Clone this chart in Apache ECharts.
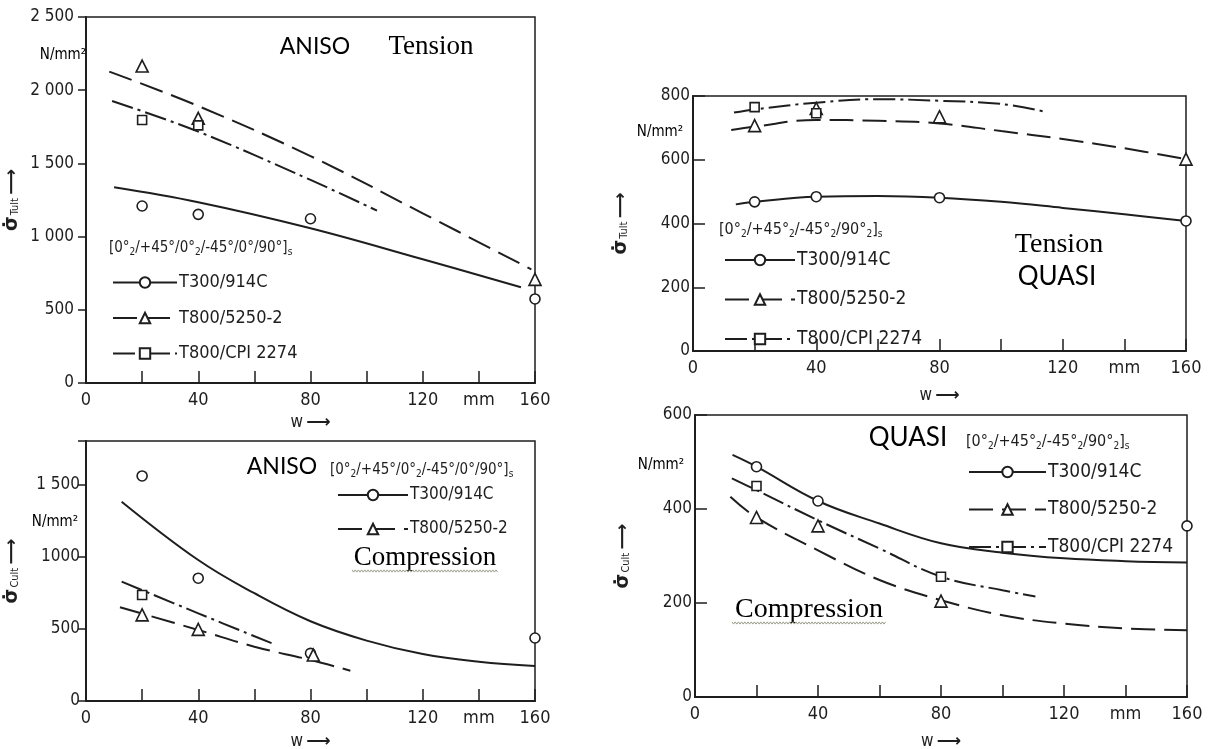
<!DOCTYPE html>
<html>
<head>
<meta charset="utf-8">
<script src="https://cdn.jsdelivr.net/npm/echarts@6/dist/echarts.min.js"></script>
<style>
  html, body { margin: 0; padding: 0; background: #fff; }
  #c { width: 1210px; height: 749px; }
</style>
</head>
<body>
<div id="c"></div>
<script>
// ---- tick labels ----
const widthTicks = ['0', '', '40', '', '80', '', '120', 'mm', '160'];   // every 20 mm
const anisoTensionTicks = ['0', '500', '1 000', '1 500', '2 000', '2 500'];
const anisoCompTicks = ['0', '500', '1000', '1 500'];
const quasiTensionTicks = ['0', '200', '400', '600', '800'];
const quasiCompTicks = ['0', '200', '400', '600'];

const materials = ['T300/914C', 'T800/5250-2', 'T800/CPI 2274'];

// ---- ANISO, tension: [w mm, N/mm2] ----
const anisoTenT300Pts = [[20, 1209], [40, 1152], [80, 1122], [160, 574]];
const anisoTen5250Pts = [[20, 2165], [40, 1808], [160, 708]];
const anisoTenCpiPts = [[20, 1796], [40, 1760]];
const anisoTenT300Fit = [[10, 1337], [40, 1235], [80, 1057], [120, 845], [155, 654]];
const anisoTen5250Fit = [[8.3, 2127], [40, 1892], [80, 1550], [120, 1159], [158.7, 776]];
const anisoTenCpiFit = [[9.3, 1926], [40, 1717], [80, 1387], [103.7, 1177]];

// ---- ANISO, compression ----
const anisoCompT300Pts = [[20, 1558], [40, 850], [80, 330], [160, 436]];
const anisoComp5250Pts = [[20, 596], [40, 496], [81, 318]];
const anisoCompCpiPts = [[20, 734]];
const anisoCompT300Fit = [[12.7, 1380], [40, 976], [60, 746], [80, 552], [100, 418], [120, 325], [140, 272], [160, 242]];
const anisoComp5250Fit = [[12.1, 649], [40, 492], [60, 376], [80, 284], [94.2, 210]];
const anisoCompCpiFit = [[12.7, 826], [40, 607], [66.8, 395]];

// ---- QUASI, tension ----
const quasiTenT300Pts = [[20, 468], [40, 484], [80, 481], [160, 408]];
const quasiTen5250Pts = [[20, 707], [40, 761], [80, 735], [160, 602]];
const quasiTenCpiPts = [[20, 765], [40, 746]];
const quasiTenT300Fit = [[13.9, 460], [20, 468], [40, 484], [60, 486], [80, 481], [100, 468], [120, 449], [140, 429], [160, 408]];
const quasiTen5250Fit = [[12.4, 693], [20, 704], [40, 725], [60, 722], [80, 714], [100, 690], [120, 665], [140, 636], [160, 602]];
const quasiTenCpiFit = [[13.3, 748], [20, 758], [40, 779], [60, 790], [80, 785], [100, 775], [114, 751]];

// ---- QUASI, compression ----
const quasiCompT300Pts = [[20, 490], [40, 417], [160, 364]];
const quasiComp5250Pts = [[20, 382], [40, 364], [80, 204]];
const quasiCompCpiPts = [[20, 449], [80, 256]];
const quasiCompT300Fit = [[12.2, 515], [20, 490], [40, 417], [60, 369], [80, 327], [100, 307], [120, 295], [140, 289], [160, 286]];
const quasiComp5250Fit = [[11.5, 426], [20, 382], [40, 312], [60, 249], [80, 206], [100, 174], [120, 156], [140, 146], [160, 142]];
const quasiCompCpiFit = [[12, 465], [20, 440], [40, 376], [60, 316], [80, 256], [100, 227], [110.7, 214]];

// ---- styling ----
const INK = '#1e1e1e';
const COND = '"DejaVu Sans Condensed", "DejaVu Sans", sans-serif';
const SERIF = '"Liberation Serif", "DejaVu Serif", serif';
const GOTHIC = 'Lato, "Noto Sans", sans-serif';

const lineStyles = [
  { type: 'solid', width: 2, color: INK },
  { type: [24, 9], width: 2, color: INK },
  { type: [22, 5, 3, 5], width: 2, color: INK }
];
const symbols = ['circle', 'triangle', 'rect'];
const symbolSizes = [10, 12, 9];

function xAxisFor(gi, nameGap) {
  return {
    type: 'value', gridIndex: gi, min: 0, max: 160, interval: 20,
    axisLine: { onZero: false, lineStyle: { color: INK, width: 2 } },
    axisTick: { inside: true, length: 12, lineStyle: { color: INK, width: 1.5 } },
    axisLabel: {
      formatter: v => widthTicks[Math.round(v / 20)] || '',
      color: INK, fontFamily: COND, fontSize: 18, margin: 8
    },
    splitLine: { show: false },
    name: '{w|w} {a|⟶}', nameLocation: 'middle', nameGap: nameGap,
    nameTextStyle: {
      rich: {
        w: { fontFamily: COND, fontSize: 17, color: INK },
        a: { fontFamily: '"DejaVu Sans"', fontSize: 17, color: INK, fontWeight: 'bold' }
      }
    }
  };
}

function yAxisFor(gi, max, interval, ticks, sub, nameGap, outside, margin) {
  return {
    type: 'value', gridIndex: gi, min: 0, max: max, interval: interval,
    axisLine: { onZero: false, lineStyle: { color: INK, width: 2 } },
    axisTick: { inside: !outside, length: outside ? 8 : 12, lineStyle: { color: INK, width: 1.5 } },
    axisLabel: {
      formatter: v => {
        const i = v / interval;
        return Number.isInteger(i) && ticks[i] !== undefined ? ticks[i] : '';
      },
      color: INK, fontFamily: COND, fontSize: 17, margin: margin
    },
    splitLine: { show: false },
    name: '{s|σ̇}{b|' + sub + '} {a|⟶}', nameLocation: 'middle', nameRotate: 90, nameGap: nameGap,
    nameTextStyle: {
      rich: {
        s: { fontFamily: '"DejaVu Sans"', fontSize: 19, color: INK, fontWeight: 'bold' },
        b: { fontFamily: COND, fontSize: 11, color: INK, padding: [6, 0, 0, 1] },
        a: { fontFamily: '"DejaVu Sans"', fontSize: 18, color: INK, fontWeight: 'bold' }
      }
    }
  };
}

function panelSeries(gi, fits, pts) {
  const out = [];
  fits.forEach((fit, k) => {
    out.push({
      name: materials[k], type: 'line', xAxisIndex: gi, yAxisIndex: gi,
      data: fit, smooth: 0.4,
      symbol: 'empty' + symbols[k].charAt(0).toUpperCase() + symbols[k].slice(1),
      showSymbol: false, symbolSize: symbolSizes[k],
      itemStyle: { color: INK }, lineStyle: lineStyles[k],
      silent: true, z: 2
    });
  });
  pts.forEach((p, k) => {
    out.push({
      name: materials[k] + ' test', type: 'scatter', xAxisIndex: gi, yAxisIndex: gi,
      data: p, symbol: symbols[k], symbolSize: symbolSizes[k],
      itemStyle: { color: '#fff', borderColor: INK, borderWidth: 1.6, opacity: 1 },
      silent: true, z: 4
    });
  });
  return out;
}

function legendFor(names, left, top, itemWidth, itemGap, fontSize) {
  return {
    data: names, orient: 'vertical', left: left, top: top, padding: 0,
    itemWidth: itemWidth, itemHeight: 13, itemGap: itemGap, selectedMode: false,
    textStyle: { fontFamily: COND, fontSize: fontSize, color: INK, lineHeight: 13, padding: [0, 0, 0, -3] }
  };
}

function label(x, y, text, font) {
  return {
    type: 'text', x: x, y: y, silent: true, z: 10,
    style: { text: text, font: font, fill: '#000', align: 'center', verticalAlign: 'middle' }
  };
}

function layupLabel(x, y, text, size) {
  return {
    type: 'text', x: x, y: y, silent: true, z: 10,
    style: {
      text: text, fontFamily: COND, fontSize: size, fill: INK,
      align: 'left', verticalAlign: 'middle',
      rich: { b: { fontFamily: COND, fontSize: 10, fill: INK, padding: [8, 0, 0, 0] } }
    }
  };
}

function squiggle(x0, x1, y) {
  const pts = [];
  for (let x = x0, i = 0; x <= x1; x += 1.6, i++) pts.push([x, y + (i % 2 ? 1.1 : -1.1)]);
  return { type: 'polyline', silent: true, z: 10, shape: { points: pts }, style: { stroke: '#9a9a88', lineWidth: 1, fill: null } };
}

const anisoLayup = '[0°{b|2}/+45°/0°{b|2}/-45°/0°/90°]{b|s}';
const quasiLayup = '[0°{b|2}/+45°{b|2}/-45°{b|2}/90°{b|2}]{b|s}';

const option = {
  animation: false,
  backgroundColor: '#fff',
  grid: [
    { left: 86, top: 17, width: 449, height: 366 },
    { left: 86, top: 441, width: 449, height: 260 },
    { left: 693, top: 96, width: 493, height: 255 },
    { left: 695, top: 415, width: 492, height: 282 }
  ].map(g => Object.assign(g, { show: true, borderColor: INK, borderWidth: 1.5, backgroundColor: 'transparent', containLabel: false, outerBoundsMode: 'none' })),
  xAxis: [xAxisFor(0, 31), xAxisFor(1, 32), xAxisFor(2, 36), xAxisFor(3, 36)],
  yAxis: [
    yAxisFor(0, 2500, 500, anisoTensionTicks, 'Tult', 64, true, 12),
    yAxisFor(1, 1800, 500, anisoCompTicks, 'Cult', 64, true, 6),
    yAxisFor(2, 800, 200, quasiTensionTicks, 'Tult', 62, false, 3),
    yAxisFor(3, 600, 200, quasiCompTicks, 'Cult', 62, false, 3)
  ],
  legend: [
    legendFor(materials, 112, 273.5, 64, 17.5, 18),
    legendFor(materials.slice(0, 2), 337, 486.5, 70, 17, 17),
    legendFor(materials, 724, 250.5, 70, 20.5, 19),
    legendFor(materials, 968, 462.5, 77, 18.5, 19)
  ],
  series: [].concat(
    panelSeries(0, [anisoTenT300Fit, anisoTen5250Fit, anisoTenCpiFit], [anisoTenT300Pts, anisoTen5250Pts, anisoTenCpiPts]),
    panelSeries(1, [anisoCompT300Fit, anisoComp5250Fit, anisoCompCpiFit], [anisoCompT300Pts, anisoComp5250Pts, anisoCompCpiPts]),
    panelSeries(2, [quasiTenT300Fit, quasiTen5250Fit, quasiTenCpiFit], [quasiTenT300Pts, quasiTen5250Pts, quasiTenCpiPts]),
    panelSeries(3, [quasiCompT300Fit, quasiComp5250Fit, quasiCompCpiFit], [quasiCompT300Pts, quasiComp5250Pts, quasiCompCpiPts])
  ),
  graphic: [
    // ANISO tension
    label(315, 47, 'ANISO', '23px ' + GOTHIC),
    label(431, 47, 'Tension', '27px ' + SERIF),
    label(63, 55, 'N/mm²', '15px ' + COND),
    layupLabel(109, 248, anisoLayup, 15),
    // ANISO compression
    label(282, 467, 'ANISO', '23px ' + GOTHIC),
    layupLabel(330, 470, anisoLayup, 15),
    label(425, 558, 'Compression', '27px ' + SERIF),
    squiggle(352, 498, 571),
    label(55, 522, 'N/mm²', '15px ' + COND),
    // QUASI tension
    label(1059, 245, 'Tension', '28px ' + SERIF),
    label(1057, 277, 'QUASI', '26px ' + GOTHIC),
    label(660, 132, 'N/mm²', '15px ' + COND),
    layupLabel(719, 230, quasiLayup, 16),
    // QUASI compression
    label(908, 438, 'QUASI', '26px ' + GOTHIC),
    layupLabel(966, 442, quasiLayup, 16),
    label(809, 610, 'Compression', '28px ' + SERIF),
    squiggle(732, 887, 623),
    label(661, 465, 'N/mm²', '15px ' + COND)
  ]
};

const chart = echarts.init(document.getElementById('c'), null, { renderer: 'canvas' });
chart.setOption(option);
</script>
</body>
</html>
